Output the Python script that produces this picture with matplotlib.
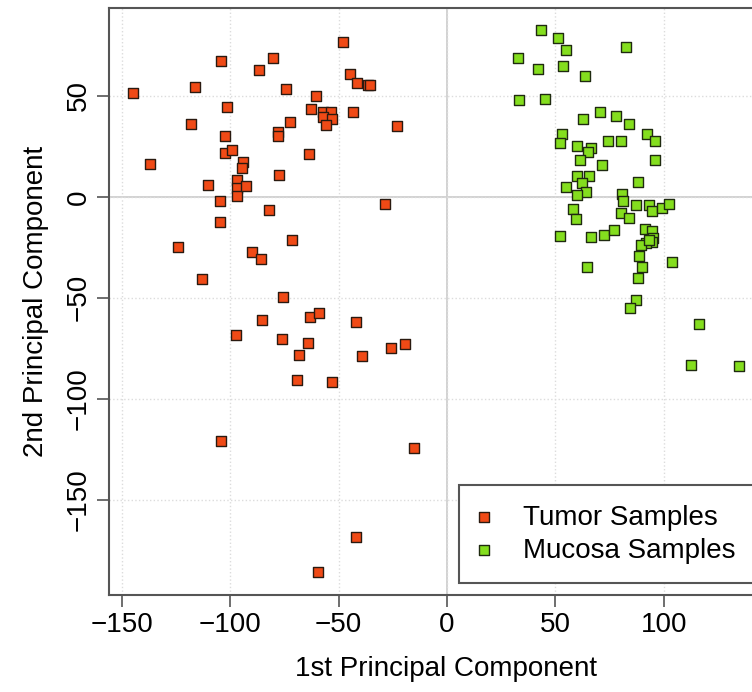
import matplotlib
matplotlib.use("Agg")
import matplotlib.pyplot as plt

# PCA scores
tumor_x = [-144.6, -136.9, -124.1, -118.0, -116.3, -112.9, -110.4, -104.6, -104.7, -104.3,
           -101.5, -102.3, -102.3, -99.2, -96.9, -96.6, -96.9, -92.6, -94.1, -94.3,
           -90.0, -85.9, -86.5, -82.2, -80.0, -77.7, -77.7, -77.6, -75.4, -74.0,
           -72.2, -71.3, -63.6, -62.7, -60.4, -57.0, -53.6, -57.3, -52.9, -55.6,
           -47.9, -44.8, -41.6, -36.4, -35.5, -43.5, -28.4, -23.2, -85.4, -97.4,
           -75.9, -63.0, -58.8, -64.2, -68.3, -69.1, -53.1, -42.1, -39.3, -25.8,
           -19.4, -104.1, -15.1, -42.1, -59.6]
tumor_y = [51.6, 16.3, -24.9, 36.1, 54.6, -40.6, 5.8, -2.1, -12.5, 67.2,
           44.7, 30.0, 21.6, 23.3, 8.4, 4.3, 0.5, 5.4, 17.2, 14.2,
           -27.4, -30.7, 62.9, -6.4, 68.8, 32.3, 30.0, 10.9, -49.4, 53.3,
           37.0, -21.3, 21.3, 43.7, 49.7, 41.9, 41.9, 39.5, 38.5, 35.3,
           76.6, 60.7, 56.1, 55.3, 55.3, 42.2, -3.6, 35.1, -61.2, -68.5,
           -70.3, -59.6, -57.8, -72.6, -78.4, -90.8, -91.6, -62.2, -79.1, -74.8,
           -72.9, -121.1, -124.4, -168.5, -185.8]

mucosa_x = [43.5, 51.0, 54.8, 82.5, 32.7, 42.1, 53.3, 63.6, 33.0, 45.3,
            70.4, 62.8, 77.9, 83.9, 53.0, 52.1, 59.8, 66.5, 64.8, 74.3,
            80.2, 92.2, 95.9, 61.1, 71.4, 96.0, 59.8, 65.6, 62.4, 88.2,
            55.0, 63.9, 59.8, 80.6, 81.0, 87.0, 93.2, 94.5, 99.1, 102.2,
            58.1, 59.4, 80.2, 83.7, 52.1, 66.4, 72.5, 77.0, 91.4, 94.3,
            94.9, 94.6, 91.7, 89.3, 93.1, 88.5, 64.4, 90.0, 103.7, 88.2,
            87.0, 84.3, 116.0, 112.3, 134.7]
mucosa_y = [82.5, 78.7, 72.8, 74.4, 68.8, 63.5, 64.9, 59.9, 47.9, 48.5,
            42.1, 38.6, 39.8, 36.1, 31.3, 26.6, 25.2, 24.3, 22.4, 27.6,
            27.6, 31.2, 27.6, 18.3, 15.7, 18.3, 10.5, 10.5, 6.8, 7.4,
            4.6, 2.6, 0.8, 1.5, -2.1, -4.3, -4.3, -6.8, -5.4, -3.8,
            -6.1, -11.2, -7.9, -10.7, -19.2, -20.0, -19.0, -16.5, -16.2, -16.8,
            -20.5, -22.4, -23.1, -24.1, -21.3, -29.1, -34.7, -34.8, -32.3, -40.3,
            -51.3, -55.1, -63.0, -83.5, -83.8]

x_ticks = [-150, -100, -50, 0, 50, 100]
y_ticks = [-150, -100, -50, 0, 50]

plt.rcParams['font.family'] = ['Liberation Sans', 'DejaVu Sans']

fig = plt.figure(figsize=(7.52, 6.92), dpi=100)
# the plot box runs past the right edge of the picture, as in the reference
ax = fig.add_axes([0.145, 0.1402, 0.896, 0.848])

ax.set_xlim(-155.8, 154.8)
ax.set_ylim(-197.2, 93.4)
ax.set_xticks(x_ticks)
ax.set_yticks(y_ticks)
ax.set_xticklabels(["\u2212" + str(-t) if t < 0 else str(t) for t in x_ticks])
ax.set_yticklabels(["\u2212" + str(-t) if t < 0 else str(t) for t in y_ticks])

ax.grid(True, linestyle=':', color='#dcdcdc', linewidth=1.0, zorder=0)
ax.axhline(0, color='#cfcfcf', linewidth=1.3, zorder=1)
ax.axvline(0, color='#cfcfcf', linewidth=1.3, zorder=1)

ax.scatter(tumor_x, tumor_y, marker='s', s=46, facecolor='#F04A16',
           edgecolor='#2a1a10', linewidth=1.0, zorder=3, label='Tumor Samples')
ax.scatter(mucosa_x, mucosa_y, marker='s', s=46, facecolor='#84DE1E',
           edgecolor='#1f2a10', linewidth=1.0, zorder=3, label='Mucosa Samples')

for s in ax.spines.values():
    s.set_color('#555555')
    s.set_linewidth(1.5)

ax.tick_params(direction='out', length=8.5, width=1.2, color='#555555',
               labelsize=20, pad=4)
plt.setp(ax.get_yticklabels(), rotation=90, va='center')

ax.set_xlabel('1st Principal Component', fontsize=20, labelpad=13)
ax.set_ylabel('2nd Principal Component', fontsize=20, labelpad=12)

leg = ax.legend(loc='lower left', bbox_to_anchor=(0.52, 0.0204), borderaxespad=0,
                fontsize=20, frameon=True, fancybox=False, scatterpoints=1,
                markerscale=1.15, borderpad=0.7, labelspacing=0.25,
                handlelength=0.4, handletextpad=1.2)
leg.get_frame().set_edgecolor('#555555')
leg.get_frame().set_linewidth(1.5)
leg.get_frame().set_alpha(1)

fig.savefig('out.png', dpi=100)
